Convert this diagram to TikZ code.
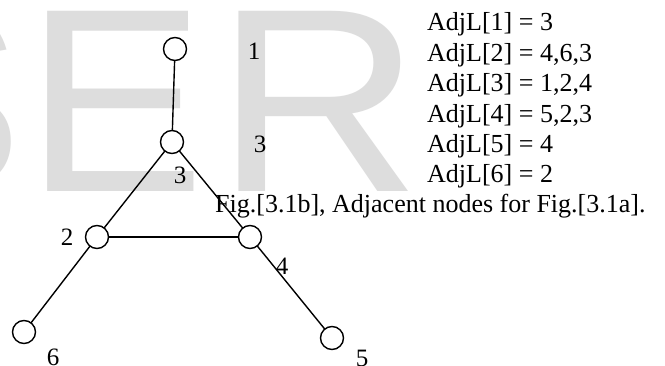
\documentclass[tikz,border=0pt]{standalone}
\usepackage{fontspec}
\setmainfont{Liberation Serif}
\newfontfamily\wmfont{Liberation Sans}
\definecolor{wmgray}{RGB}{221,221,221}
\tikzset{
  vtx/.style={circle,draw,line width=1.4pt,minimum size=23pt,inner sep=0pt,fill=white},
  edge/.style={line width=1.4pt},
  lbl/.style={inner sep=0pt,font=\fontsize{25}{25}\selectfont},
  wm/.style={inner sep=0pt,anchor=base west,text=wmgray,font=\wmfont\fontsize{262}{262}\selectfont},
  listtext/.style={inner sep=0pt,anchor=base west,font=\fontsize{26}{30.4}\selectfont}
}
\begin{document}
\begin{tikzpicture}[x=1pt,y=-1pt]
\useasboundingbox (0,0) rectangle (665,366);
\clip (0,0) rectangle (665,366);
\fill[white] (0,0) rectangle (665,366);
% watermark
\node[wm] (wS) at (-152,192) {S};
\node[wm,xscale=1.03,transform shape] (wE) at (25,192) {E};
\node[wm,xscale=1.09,transform shape] (wR) at (215,192) {R};
% edges
\coordinate (c1) at (175,49);
\coordinate (c3) at (172,142);
\coordinate (c2) at (97,237);
\coordinate (c4) at (250,237);
\coordinate (c6) at (24,332);
\coordinate (c5) at (332,338);
\draw[edge] (c1) -- (c3);
\draw[edge] (c3) -- (c2);
\draw[edge] (c3) -- (c4);
\draw[edge] (c2) -- (c4);
\draw[edge] (c2) -- (c6);
\draw[edge] (c4) -- (c5);
% vertices
\node[vtx] (n1) at (c1) {};
\node[vtx] (n3) at (c3) {};
\node[vtx] (n2) at (c2) {};
\node[vtx] (n4) at (c4) {};
\node[vtx] (n6) at (c6) {};
\node[vtx] (n5) at (c5) {};
% labels
\node[lbl] (l1) at (254,51) {1};
\node[lbl] (l3a) at (260,144) {3};
\node[lbl] (l3b) at (180,175) {3};
\node[lbl] (l2) at (67,237) {2};
\node[lbl] (l4) at (282,266) {4};
\node[lbl] (l6) at (53,357) {6};
\node[lbl] (l5) at (362,358) {5};
% adjacency list
\node[listtext] (a1) at (427,31) {AdjL[1] = 3};
\node[listtext] (a2) at (427,61.4) {AdjL[2] = 4,6,3};
\node[listtext] (a3) at (427,91.8) {AdjL[3] = 1,2,4};
\node[listtext] (a4) at (427,122.2) {AdjL[4] = 5,2,3};
\node[listtext] (a5) at (427,152.6) {AdjL[5] = 4};
\node[listtext] (a6) at (427,183) {AdjL[6] = 2};
\node[listtext] (cap) at (215,213) {Fig.[3.1b], Adjacent nodes for Fig.[3.1a].};
\end{tikzpicture}
\end{document}
